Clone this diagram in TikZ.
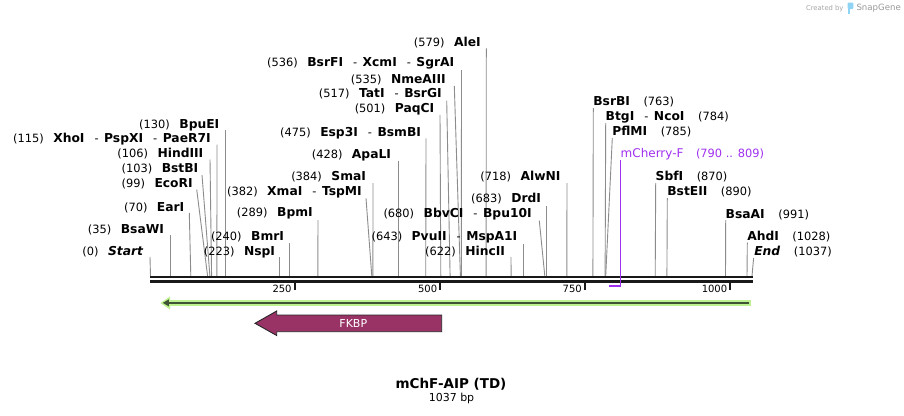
\documentclass[tikz,border=0pt]{standalone}
\usepackage{fontspec}
\setmainfont{DejaVu Sans}
\usetikzlibrary{calc}
\definecolor{cutgrey}{HTML}{8C8C8C}
\definecolor{primerc}{HTML}{A030F0}
\definecolor{fkbpc}{HTML}{993366}
\definecolor{glight}{HTML}{BDF08E}
\definecolor{gdark}{HTML}{3E5434}
\definecolor{logoblue}{HTML}{8FD3F5}
\newcommand\numf{\fontsize{11.4}{13}\selectfont\mdseries}
\newcommand\namef{\fontsize{12.3}{14}\selectfont\bfseries}
\newcommand\dsh{{\numf\hspace{10pt}-\hspace{5.5pt}}}
\tikzset{
  lablab/.style={inner sep=0pt, outer sep=0pt},
  cutline/.style={draw=cutgrey, line width=0.9pt},
  backbone/.style={draw=black!90, line width=2.5pt},
  tickmark/.style={draw=black!90, line width=2pt},
}
% left-labelled site: id, text end x, baseline, line-top x, line-top y, site x, number, name
\newcommand\LSite[8]{%
  \node[lablab, anchor=base east] (l#1) at (#2,#3) {\numf(#7)\hspace{9.5pt}\namef #8};
  \coordinate (t#1) at (#4,#5);
  \coordinate (s#1) at (#6,276);
  \draw[cutline] (t#1) -- (s#1);}
% right-labelled site: id, text start x, baseline, line-top x, line-top y, site x, name, number
\newcommand\RSite[8]{%
  \node[lablab, anchor=base west] (l#1) at (#2,#3) {\namef #7\hspace{13.5pt}\numf(#8)};
  \coordinate (t#1) at (#4,#5);
  \coordinate (s#1) at (#6,276);
  \draw[cutline] (t#1) -- (s#1);}
\begin{document}
\begin{tikzpicture}[x=1pt,y=-1pt]
\useasboundingbox (0,0) rectangle (904,415);
\fill[white] (0,0) rectangle (904,415);

% credit
\node[lablab, anchor=base east, text=black!35, font=\fontsize{6.8}{8}\selectfont] (cred) at (843.5,10.3) {Created by};
\fill[logoblue, rounded corners=1pt] (847.6,2.5) rectangle (853.4,9);
\fill[logoblue] (847.6,8) rectangle (850,13.5);
\node[lablab, anchor=base west, text=black!40, font=\fontsize{8.6}{10}\selectfont] (sg) at (856.5,10.5) {SnapGene};

% left-labelled sites
\LSite{start}{143.5}{255.7}{150}{257}{150.5}{0}{\textit{Start}}
\LSite{bsawi}{164}{233.5}{170.3}{235}{170.3}{35}{BsaWI}
\LSite{eari}{184.3}{211}{189.3}{213}{190.8}{70}{EarI}
\LSite{ecori}{192.7}{187.7}{196.7}{189.5}{207.6}{99}{EcoRI}
\LSite{bstbi}{198.3}{172.7}{202}{175}{209.9}{103}{BstBI}
\LSite{hindiii}{203.3}{157.7}{210}{159.5}{211.6}{106}{HindIII}
\LSite{xhoi}{210.7}{142.7}{217}{144.5}{216.9}{115}{XhoI\dsh PspXI\dsh PaeR7I}
\LSite{bpuei}{219.3}{128.3}{225.6}{130}{225.6}{130}{BpuEI}
\LSite{nspi}{275}{255}{279.5}{257}{279.5}{223}{NspI}
\LSite{bmri}{284}{240}{289.3}{243}{289.3}{240}{BmrI}
\LSite{bpmi}{312.7}{216.7}{318}{220}{317.8}{289}{BpmI}
\LSite{xmai}{361.7}{195}{366}{198.3}{371.8}{382}{XmaI\dsh TspMI}
\LSite{smai}{366}{180}{373}{183}{372.9}{384}{SmaI}
\LSite{apali}{391}{158.3}{398.5}{160.5}{398.5}{428}{ApaLI}
\LSite{esp3i}{421}{136}{426}{138.3}{425.7}{475}{Esp3I\dsh BsmBI}
\LSite{paqci}{434.3}{112.7}{440}{115}{440.8}{501}{PaqCI}
\LSite{tati}{441.7}{97.7}{446.7}{100.7}{450.1}{517}{TatI\dsh BsrGI}
\LSite{nmeaiii}{445.7}{83.3}{454.3}{86}{460.4}{535}{NmeAIII}
\LSite{bsrfi}{454.3}{66.7}{461.5}{70}{461.3}{536}{BsrFI\dsh XcmI\dsh SgrAI}
\LSite{alei}{480.7}{46}{486.3}{48.3}{486.1}{579}{AleI}
\LSite{hincii}{505}{255}{511}{257}{511.1}{622}{HincII}
\LSite{pvuii}{517.3}{240}{523.3}{244}{523.3}{643}{PvuII\dsh MspA1I}
\LSite{bbvci}{531.7}{217.3}{539.3}{220.7}{544.8}{680}{BbvCI\dsh Bpu10I}
\LSite{drdi}{541}{202.7}{546.5}{206}{546.5}{683}{DrdI}
\LSite{alwni}{560.5}{180}{567}{183}{566.8}{718}{AlwNI}

% right-labelled sites
\RSite{bsrbi}{593.3}{105.7}{593.3}{108}{592.9}{BsrBI}{763}
\RSite{btgi}{605.7}{120.7}{605.7}{123}{605.1}{BtgI\dsh NcoI}{784}
\RSite{pflmi}{612.3}{135.7}{612.3}{138}{605.7}{PflMI}{785}
\RSite{sbfi}{655.7}{180.7}{655.7}{183}{655.2}{SbfI}{870}
\RSite{bsteii}{667.3}{195.7}{667.3}{198}{666.9}{BstEII}{890}
\RSite{bsaai}{725.7}{218.3}{725.7}{220}{725.5}{BsaAI}{991}
\RSite{ahdi}{747.3}{240.7}{747.3}{242.7}{747}{AhdI}{1028}
\RSite{end}{754.3}{255.7}{753.6}{258}{752}{\textit{End}}{1037}

% backbone
\draw[backbone] (150,277.2) -- (752.5,277.2);
\draw[backbone] (150,281.4) -- (752.5,281.4);
\foreach \x/\t in {294.6/250, 440.2/500, 584.8/750, 730.2/1000} {
  \draw[tickmark] (\x,282.5) -- (\x,289.5);
  \node[lablab, anchor=base east, font=\fontsize{10}{12}\selectfont] at ({\x-3},292.7) {\t};
}

% primer
\node[lablab, anchor=base west, text=primerc] (mch) at (620.7,157.7) {\fontsize{12}{14}\selectfont mCherry-F\hspace{12.5pt}\numf(790 .. 809)};
\coordinate (ptop) at (620.6,160);
\coordinate (pbot) at (620.6,286.6);
\coordinate (pleft) at (609,285.9);
\draw[primerc, line width=1.3pt] (ptop) -- (pbot);
\draw[primerc, line width=1.9pt] (pleft) -- (621.2,285.9);

% green sequence arrow
\fill[glight] (165,300) rectangle (750.7,305.8);
\fill[glight] (160.5,303) -- (170,296.5) -- (170,309.5) -- cycle;
\draw[gdark, line width=2.2pt] (166,302.9) -- (749,302.9);
\fill[gdark] (162.8,302.9) -- (168.8,299.4) -- (168.8,306.4) -- cycle;

% FKBP feature
\filldraw[fill=fkbpc, draw=black!85, line width=0.9pt]
  (255,323.3) -- (276.7,311) -- (276.7,315) -- (441.7,315) -- (441.7,331.7) -- (276.7,331.7) -- (276.7,335.5) -- cycle;
\node[lablab, text=white, font=\fontsize{11}{13}\selectfont] (fkbp) at (353.3,323.5) {FKBP};

% title
\node[lablab, anchor=base, font=\fontsize{13.5}{16}\selectfont\bfseries] (title) at (451,388.5) {mChF-AIP (TD)};
\node[lablab, anchor=base, font=\fontsize{11}{13}\selectfont] (len) at (451.5,401.7) {1037 bp};
\end{tikzpicture}
\end{document}
